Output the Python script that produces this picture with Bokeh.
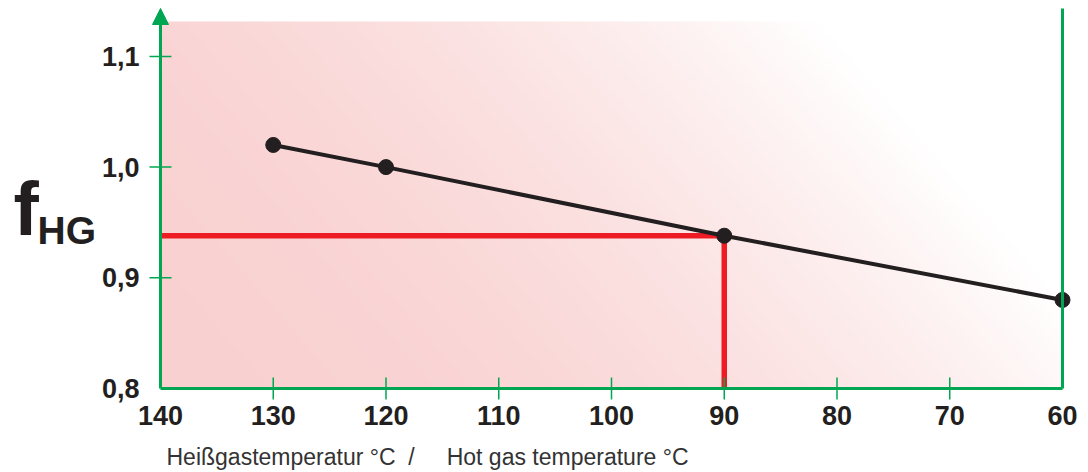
import numpy as np
from bokeh.plotting import figure
from bokeh.models import Range1d, Arrow, NormalHead
from bokeh.core.properties import value
from bokeh.embed import file_html
from bokeh.resources import INLINE

# ---- data ----
temps = [130, 120, 90, 60]            # hot gas temperature °C
fhg = [1.02, 1.00, 0.938, 0.88]       # correction factor f_HG
ref_temp = 90
ref_f = 0.938
x_ticks = [140, 130, 120, 110, 100, 90, 80, 70, 60]
y_ticks = [0.8, 0.9, 1.0, 1.1]
y_tick_labels = ["0,8", "0,9", "1,0", "1,1"]
x_tick_labels = [str(t) for t in x_ticks]
x_title = "Heißgastemperatur °C\u00a0\u00a0/\u00a0\u00a0\u00a0\u00a0 Hot gas temperature °C"

GREEN = "#00A651"
RED = "#ED1C24"
INK = "#231F20"
FONT = value("Liberation Sans")

# pixel scale of the chart (style / layout)
W_PX, H_PX = 1088, 472
LEFT_PX, RIGHT_PX, BOTTOM_PX = 160, 1062, 388
PX_X = (RIGHT_PX - LEFT_PX) / (x_ticks[0] - x_ticks[-1])   # px per °C
PX_Y = 1107.0                                              # px per unit f
X0, X1 = x_ticks[0], x_ticks[-1]
Y0 = y_ticks[0]
BASE_SHIFT = 0.37   # svg baseline correction (em)

def dx(px):   # screen px to the left -> data
    return px / PX_X

def dy(px):   # screen px upward -> data
    return px / PX_Y

def y_at(px_from_top, font_px=0):
    return Y0 + dy(BOTTOM_PX - px_from_top + BASE_SHIFT * font_px)

x_start = X0 + dx(LEFT_PX)
x_end = X1 - dx(W_PX - RIGHT_PX)
y_start = Y0 - dy(H_PX - BOTTOM_PX)
y_end = Y0 + dy(BOTTOM_PX)
Y_TOP = y_at(8)        # top of green lines / arrow tip
Y_BG_TOP = y_at(21)    # top of pink panel

p = figure(width=W_PX, height=H_PX, output_backend="svg", toolbar_location=None,
           x_range=Range1d(x_start, x_end), y_range=Range1d(y_start, y_end),
           x_axis_location=None, y_axis_location=None,
           min_border=0, background_fill_color="white",
           border_fill_color="white", outline_line_color=None)
p.xgrid.visible = False
p.ygrid.visible = False

# ---- gradient background ----
GW, GH = 450, 184
gx = X1 + (np.arange(GW) + 0.5) * (X0 - X1) / GW
gy = Y0 + (np.arange(GH) + 0.5) * (Y_BG_TOP - Y0) / GH
px_from_left = (X0 - gx) * PX_X
px_from_bottom = (gy - Y0) * PX_Y
u = (px_from_left[None, :] + 0.87 * px_from_bottom[:, None] - 10) / 971
a = 1 - np.clip(u, 0, 1) ** 2
base = np.array([249, 208, 208])
rgb = 255 - (255 - base)[None, None, :] * a[:, :, None]
rgb = np.clip(np.round(rgb), 0, 255).astype(np.uint32)
img = (np.uint32(255) << 24) | (rgb[:, :, 2] << 16) | (rgb[:, :, 1] << 8) | rgb[:, :, 0]
p.image_rgba(image=[img.astype(np.uint32)], x=X1, y=Y0, dw=X0 - X1, dh=Y_BG_TOP - Y0)

# ---- reference lines ----
p.line([X0, ref_temp, ref_temp], [ref_f, ref_f, Y0], line_color=RED, line_width=5.5,
       line_join="miter")

# ---- data line ----
p.line(temps, fhg, line_color=INK, line_width=4)
p.scatter(temps, fhg, size=15, fill_color=INK, line_color=INK)

# ---- axes ----
p.line([X0, X1], [Y0, Y0], line_color=GREEN, line_width=3)
p.line([X1, X1], [Y0, Y_TOP], line_color=GREEN, line_width=3)
p.add_layout(Arrow(x_start=X0, y_start=Y0, x_end=X0, y_end=Y_TOP,
                   line_color=GREEN, line_width=3,
                   end=NormalHead(size=16, fill_color=GREEN, line_color=GREEN)))

p.scatter([X0] * len(y_ticks[1:]), y_ticks[1:], marker="dash", size=22,
          line_color=GREEN, line_width=1.5)
p.scatter(x_ticks[1:-1], [Y0] * len(x_ticks[1:-1]), marker="dash", size=22, angle=np.pi / 2,
          line_color=GREEN, line_width=1.5)

# tick labels
p.text([X0 + dx(21)] * len(y_ticks), [t - dy(10 - BASE_SHIFT * 27) for t in y_ticks],
       text=y_tick_labels,
       text_font=FONT, text_font_style="bold", text_font_size="27px", text_color=INK,
       text_align="right", text_baseline="alphabetic")
p.text(x_ticks, [y_at(425, 27)] * len(x_ticks), text=x_tick_labels,
       text_font=FONT, text_font_style="bold", text_font_size="27px", text_color=INK,
       text_align="center", text_baseline="alphabetic")

# ---- titles ----
p.text([X0 + dx(147)], [y_at(236, 76)], text=["f"], text_font=FONT,
       text_font_style="bold", text_font_size="76px", text_color=INK,
       text_align="left", text_baseline="alphabetic")
p.text([X0 + dx(123)], [y_at(244, 39)], text=["HG"], text_font=FONT,
       text_font_style="bold", text_font_size="39px", text_color=INK,
       text_align="left", text_baseline="alphabetic")
p.text([X0 - dx(6)], [y_at(465, 23)], text=[x_title], text_font=FONT,
       text_font_size="23px", text_color="#333333",
       text_align="left", text_baseline="alphabetic")

open("out.html", "w").write(file_html(p, INLINE))
